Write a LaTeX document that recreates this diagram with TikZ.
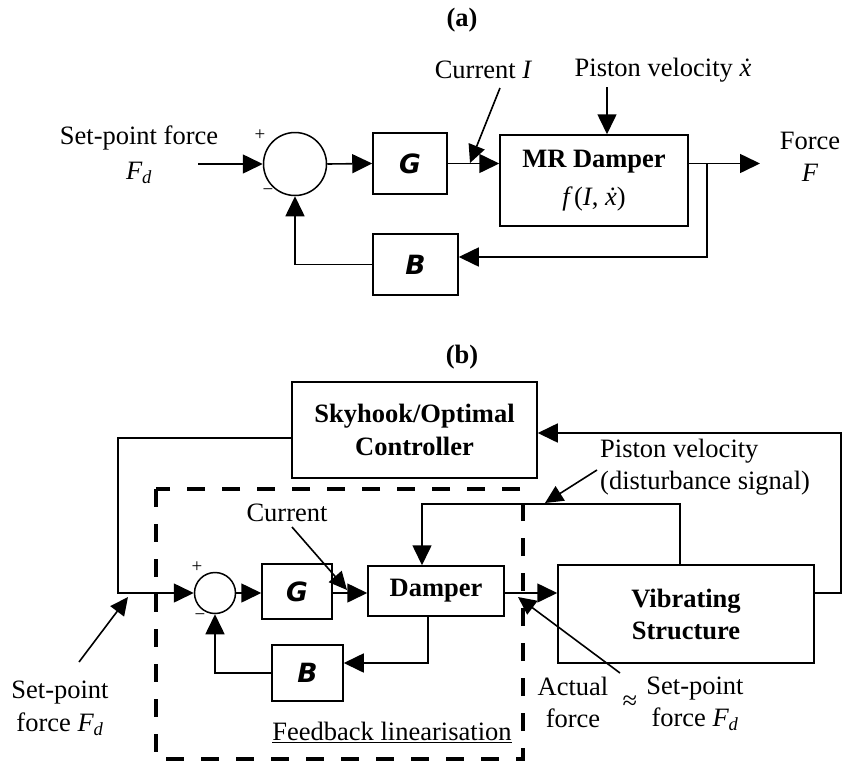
\documentclass[tikz,border=0pt]{standalone}
\usepackage{fontspec}
\setmainfont{Liberation Serif}
\newfontfamily\gbfontfam{DejaVu Sans}
\newcommand\gbtxt{\gbfontfam\bfseries\itshape}
\usetikzlibrary{arrows.meta,calc}
\tikzset{
  every node/.style={font=\fontsize{26.5}{32}\selectfont, inner sep=0pt},
  box/.style={draw, line width=1.5pt, inner sep=0pt},
  sumc/.style={draw, circle, line width=1.5pt, inner sep=0pt},
  wire/.style={line width=1.6pt},
  arr/.style={wire, -{Triangle[length=20pt,width=19pt]}},
  ptr/.style={wire, -{Triangle[length=18pt,width=17pt]}},
  lab/.style={align=center},
  sgn/.style={font=\fontsize{19}{20}\selectfont},
  dashbox/.style={line width=4pt, dash pattern=on 18pt off 17pt}
}
\begin{document}
\begin{tikzpicture}[x=1pt,y=-1pt]
\useasboundingbox (0,0) rectangle (844,761);
% ---------------- (a) ----------------
\node (ta) at (462,20) {\textbf{(a)}};
\node[sumc, minimum size=63pt] (S1) at (295,164) {};
\node[box, minimum width=74pt, minimum height=61pt] (G1) at (410,163.5) {\gbtxt G};
\node[box, minimum width=188pt, minimum height=91pt, align=center] (M1) at (594,180.5)
  {\textbf{MR Damper}\\[6pt]{\itshape f}\,({\itshape I}, {\itshape ẋ})};
\node[box, minimum width=85pt, minimum height=61pt] (B1) at (415.5,264.5) {\gbtxt B};
\node[lab] (in1) at (139,155) {Set-point force\\[3pt]{\itshape F}\textsubscript{\itshape d}};
\node[sgn] (p1) at (260,135) {+};
\node[sgn] (m1) at (268,192) {−};
\node[lab] (out1) at (810,157) {Force\\{\itshape F}};
\node (cur1) at (483,70) {Current {\itshape I}};
\node (pis1) at (663,70) {Piston velocity {\itshape ẋ}};
\coordinate (in1s) at (198,164);
\coordinate (br1) at (707,163.5);
\coordinate (o1) at (760,163.5);
\coordinate (br1b) at (707,257);
\coordinate (c1a) at (500,88);
\coordinate (c1b) at (470,163);
\coordinate (pv1) at (607,87);
\draw[arr] (in1s) -- (S1.west);
\draw[arr] (S1.east) -- (G1.west);
\draw[arr] (G1.east) -- (G1.east -| M1.west);
\draw[arr] (G1.east -| M1.east) -- (o1);
\draw[arr] (br1) -- (br1b) -- (B1.east |- br1b);
\draw[arr] (B1.west) -| (S1.south);
\draw[ptr] (c1a) -- (c1b);
\draw[arr] (pv1) -- (pv1 |- M1.north);
% ---------------- (b) ----------------
\node (tb) at (462,357) {\textbf{(b)}};
\node[box, minimum width=245pt, minimum height=96pt, align=center] (SK) at (414.5,430)
  {\textbf{Skyhook/Optimal}\\[1pt]\textbf{Controller}};
\node[sumc, minimum size=41pt] (S2) at (215,593) {};
\node[box, minimum width=70pt, minimum height=55pt] (G2) at (297,591.5) {\gbtxt G};
\node[box, minimum width=136pt, minimum height=50pt] (D2) at (436,591) {\textbf{Damper}};
\node[box, minimum width=71pt, minimum height=56pt] (B2) at (307.5,673) {\gbtxt B};
\node[box, minimum width=256pt, minimum height=98pt, align=center] (VS) at (686,614)
  {\textbf{Vibrating}\\\textbf{Structure}};
\draw[dashbox] (156,489) rectangle (523,759);
\node[sgn] (p2) at (197,567) {+};
\node[sgn] (m2) at (200,617) {−};
\node[lab] (sp) at (60,708) {Set-point\\[1pt]force {\itshape F}\textsubscript{\itshape d}};
\node (cur2) at (287,513) {Current};
\node[align=left, anchor=west] (pis2) at (600,467.5) {Piston velocity\\(disturbance signal)};
\node[lab] (act) at (573,702) {Actual\\force};
\node (apx) at (630,703) {≈};
\node[lab] (sp3) at (695,704) {Set-point\\force {\itshape F}\textsubscript{\itshape d}};
\node (fl) at (392,732) {\underline{Feedback linearisation}};
\coordinate (sk1) at (118,593);
\coordinate (db) at (428,663);
\coordinate (dl) at (422,504);
\coordinate (dr) at (680,504);
\coordinate (or1) at (841,593);
\coordinate (or2) at (841,433);
\coordinate (sp1) at (79,662);
\coordinate (sp2) at (128,597);
\coordinate (c2a) at (292,527);
\coordinate (c2b) at (347,590);
\coordinate (pv2a) at (597,470);
\coordinate (pv2b) at (545,503);
\coordinate (af1) at (620,673);
\coordinate (af2) at (518,597);
\draw[arr] ($(SK.west)+(0,8)$) -| (sk1) -- (S2.west);
\draw[arr] (S2.east) -- (G2.west |- S2.east);
\draw[arr] (G2.east |- S2.east) -- (D2.west |- S2.east);
\draw[arr] (D2.east |- S2.east) -- (VS.west |- S2.east);
\draw[arr] (D2.south -| db) -- (db) -- (B2.east |- db);
\draw[arr] (B2.west) -| (S2.south);
\draw[arr] (VS.north -| dr) -- (dr) -- (dl) -- (D2.north -| dl);
\draw[arr] (VS.east |- or1) -- (or1) -- (or2) -- (SK.east |- or2);
\draw[ptr] (sp1) -- (sp2);
\draw[ptr] (c2a) -- (c2b);
\draw[ptr] (pv2a) -- (pv2b);
\draw[ptr] (af1) -- (af2);
\end{tikzpicture}
\end{document}
